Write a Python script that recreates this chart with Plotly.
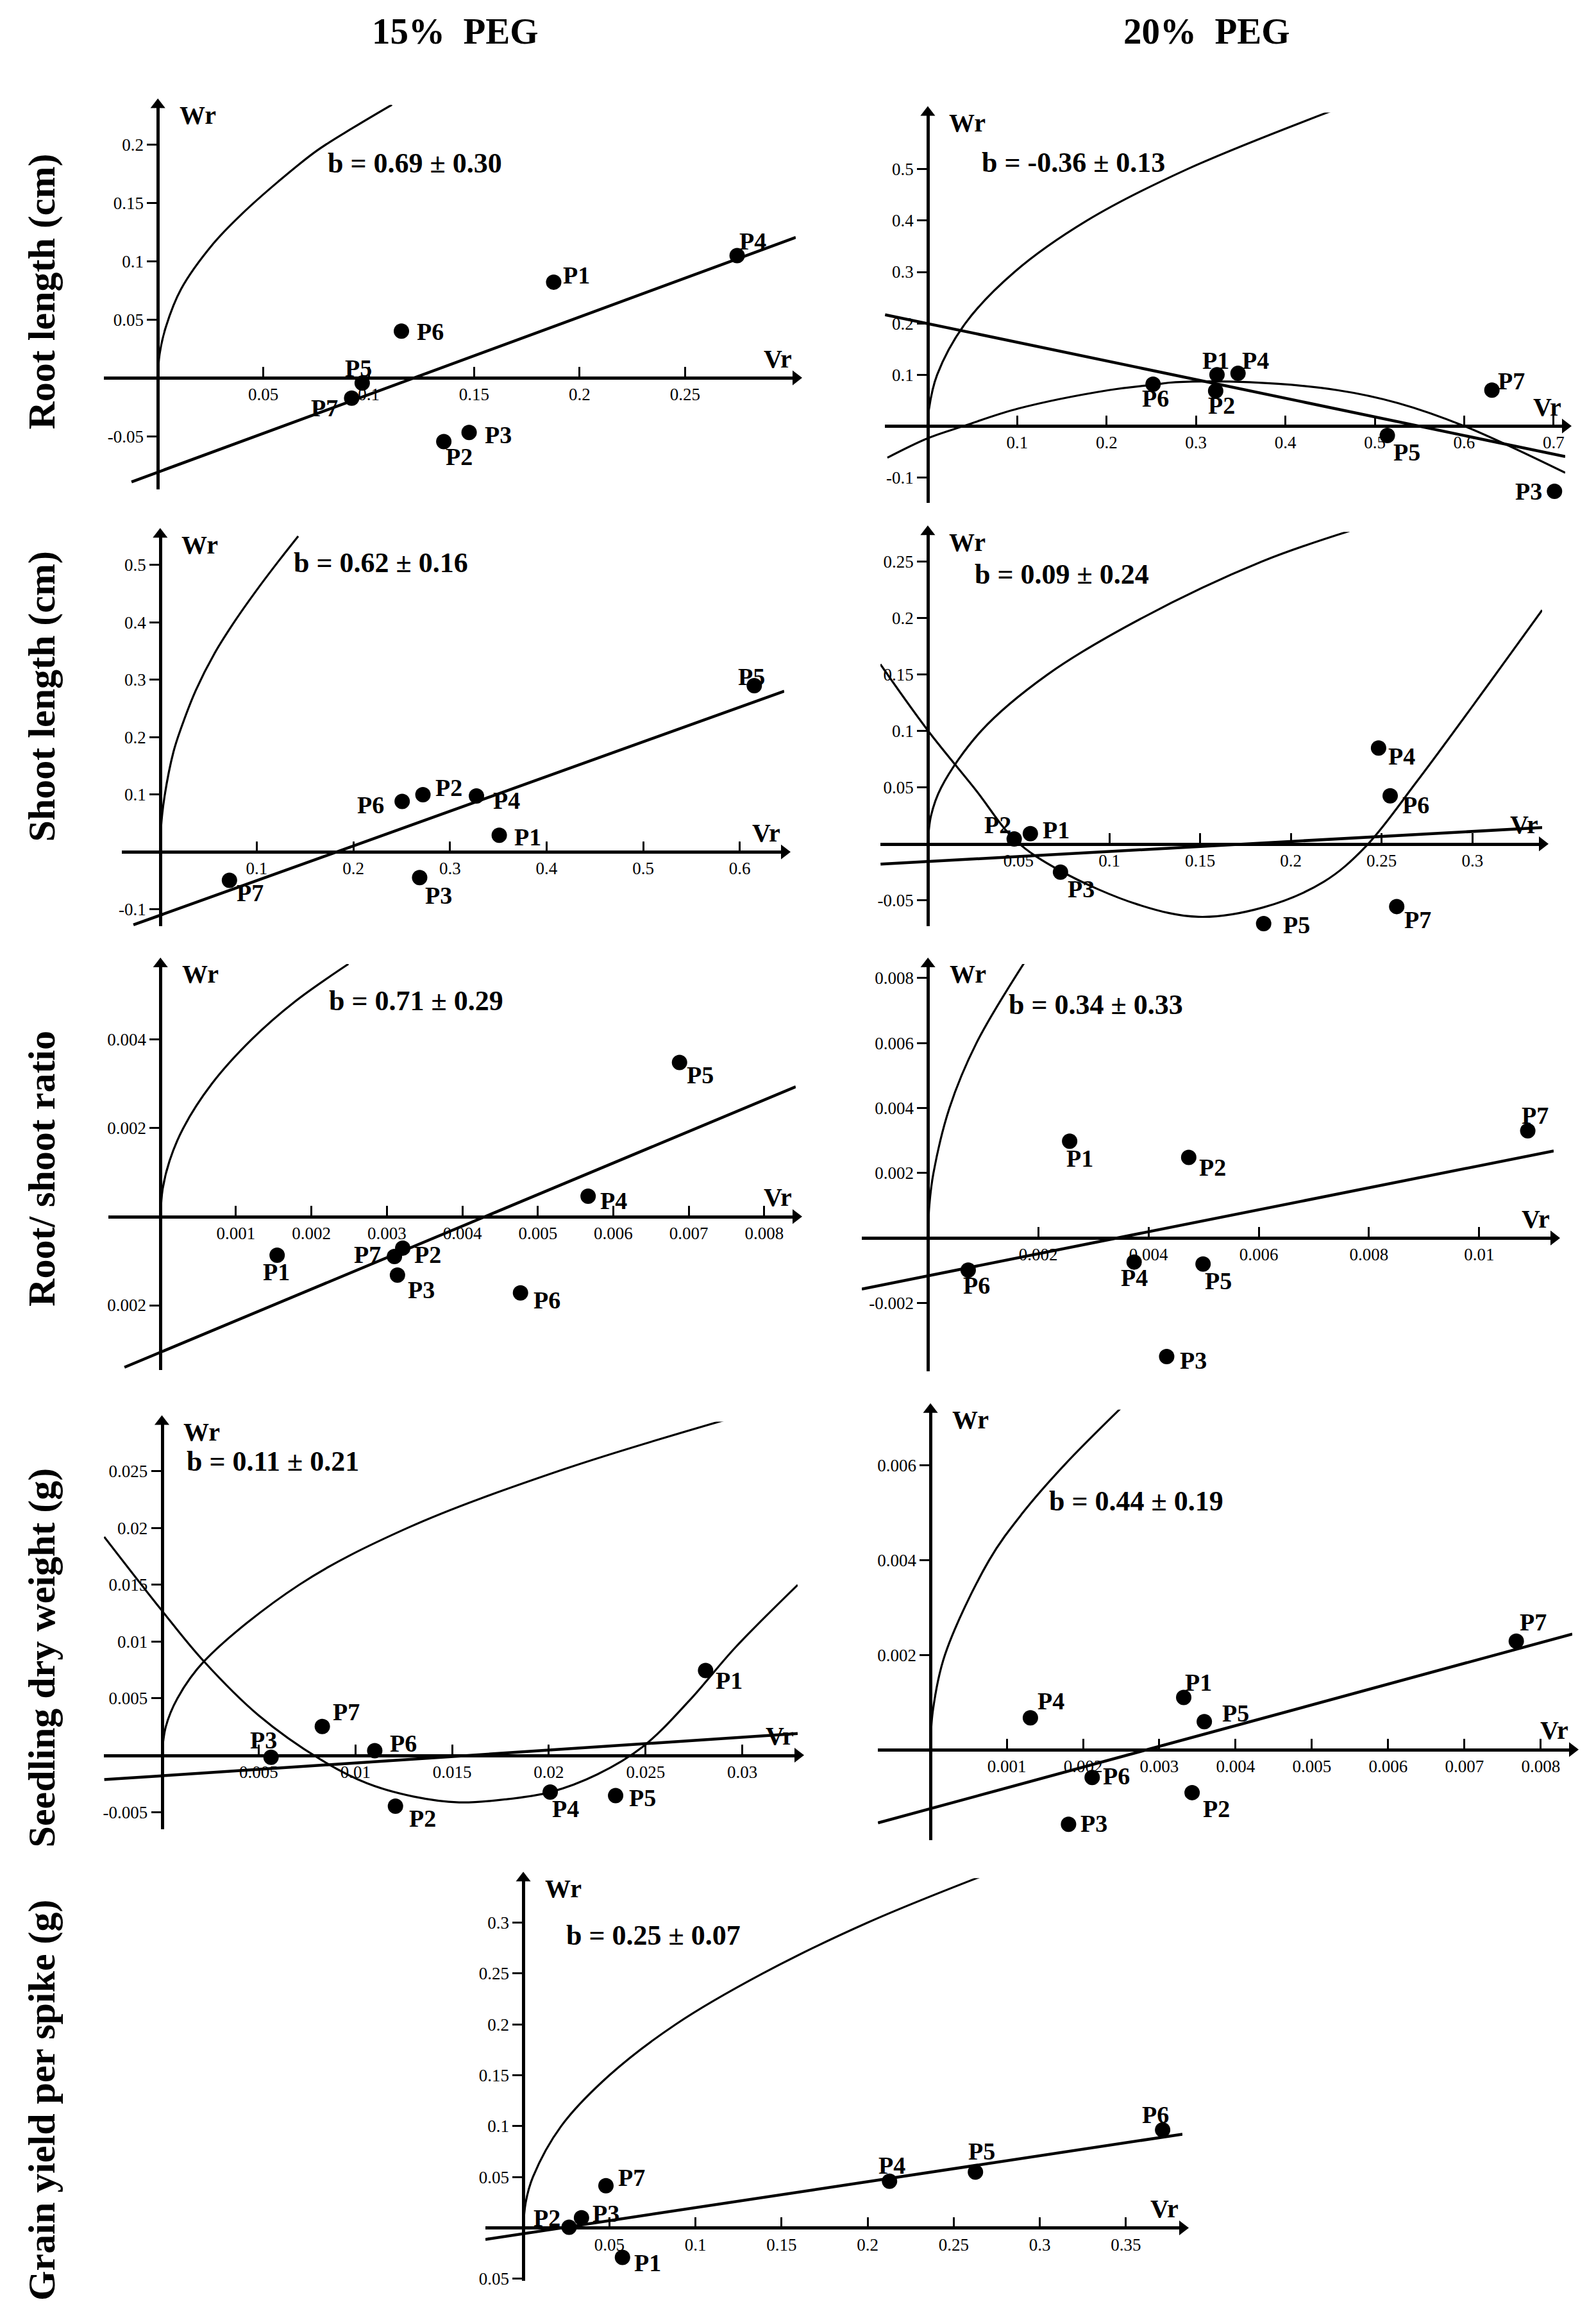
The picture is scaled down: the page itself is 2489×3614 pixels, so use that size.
import plotly.graph_objects as go

W, H = 2489, 3614
PARENTS = ["P1", "P2", "P3", "P4", "P5", "P6", "P7"]

# ---------------- Root length, 15% PEG ----------------
rl15_vr = [0.1877, 0.1356, 0.1476, 0.2747, 0.0969, 0.1155, 0.0919]
rl15_wr = [0.082, -0.0546, -0.0468, 0.1047, -0.0045, 0.040, -0.0174]
rl15_reg_vr = [-0.0125, 0.3025]
rl15_reg_wr = [-0.0891, 0.1203]
rl15_lim_vr = [0, 0.0008, 0.0036, 0.011, 0.0263, 0.0396, 0.057, 0.0753, 0.0927, 0.111]
rl15_lim_wr = [0, 0.02, 0.0425, 0.076, 0.115, 0.14, 0.168, 0.1945, 0.2144, 0.234]
rl15_b = "b = 0.69 ± 0.30"
rl15_xticks = [0.05, 0.1, 0.15, 0.2, 0.25]
rl15_xtext = ["0.05", "0.1", "0.15", "0.2", "0.25"]
rl15_yticks = [-0.05, 0.05, 0.1, 0.15, 0.2]
rl15_ytext = ["-0.05", "0.05", "0.1", "0.15", "0.2"]

# ---------------- Root length, 20% PEG ----------------
rl20_vr = [0.3235, 0.322, 0.701, 0.347, 0.514, 0.252, 0.631]
rl20_wr = [0.100, 0.0684, -0.127, 0.1026, -0.0184, 0.0816, 0.070]
rl20_reg_vr = [-0.0478, 0.713]
rl20_reg_wr = [0.2168, -0.0595]
rl20_quad_vr = [-0.0452, 0, 0.04, 0.101, 0.2025, 0.252, 0.277, 0.36, 0.458, 0.526, 0.6, 0.713]
rl20_quad_wr = [-0.0616, -0.0237, 0, 0.034, 0.070, 0.0805, 0.0853, 0.0853, 0.070, 0.0447, 0, -0.091]
rl20_lim_vr = [0, 0.0012, 0.0105, 0.042, 0.097, 0.178, 0.29, 0.452]
rl20_lim_wr = [0, 0.032, 0.1, 0.2, 0.3, 0.4, 0.5, 0.614]
rl20_b = "b = -0.36 ± 0.13"
rl20_xticks = [0.1, 0.2, 0.3, 0.4, 0.5, 0.6, 0.7]
rl20_xtext = ["0.1", "0.2", "0.3", "0.4", "0.5", "0.6", "0.7"]
rl20_yticks = [-0.1, 0.1, 0.2, 0.3, 0.4, 0.5]
rl20_ytext = ["-0.1", "0.1", "0.2", "0.3", "0.4", "0.5"]

# ---------------- Shoot length, 15% PEG ----------------
sl15_vr = [0.351, 0.272, 0.2686, 0.3274, 0.615, 0.2505, 0.0717]
sl15_wr = [0.029, 0.0998, -0.0447, 0.0975, 0.2896, 0.088, -0.0494]
sl15_reg_vr = [-0.0277, 0.646]
sl15_reg_wr = [-0.127, 0.280]
sl15_lim_vr = [0, 0.0011, 0.0046, 0.0137, 0.0215, 0.037, 0.056, 0.0785, 0.1034, 0.1237, 0.1429]
sl15_lim_wr = [0, 0.0475, 0.0978, 0.174, 0.215, 0.282, 0.345, 0.405, 0.464, 0.509, 0.55]
sl15_b = "b = 0.62 ± 0.16"
sl15_xticks = [0.1, 0.2, 0.3, 0.4, 0.5, 0.6]
sl15_xtext = ["0.1", "0.2", "0.3", "0.4", "0.5", "0.6"]
sl15_yticks = [-0.1, 0.1, 0.2, 0.3, 0.4, 0.5]
sl15_ytext = ["-0.1", "0.1", "0.2", "0.3", "0.4", "0.5"]

# ---------------- Shoot length, 20% PEG ----------------
sl20_vr = [0.0565, 0.0476, 0.0731, 0.2483, 0.185, 0.2547, 0.2583]
sl20_wr = [0.0091, 0.0043, -0.0251, 0.0849, -0.0706, 0.0426, -0.0555]
sl20_reg_vr = [-0.026, 0.3384]
sl20_reg_wr = [-0.0179, 0.0144]
sl20_quad_vr = [-0.0261, 0, 0.0263, 0.048, 0.0731, 0.1159, 0.1491, 0.1849, 0.2182, 0.2412, 0.2693, 0.3077, 0.3384]
sl20_quad_wr = [0.159, 0.1005, 0.048, 0.0036, -0.0239, -0.0538, -0.0646, -0.0562, -0.0335, -0.0024, 0.055, 0.1388, 0.207]
sl20_lim_vr = [0, 0.0018, 0.0074, 0.0294, 0.066, 0.118, 0.184, 0.2322]
sl20_lim_wr = [0, 0.025, 0.05, 0.1, 0.15, 0.2, 0.25, 0.277]
sl20_b = "b = 0.09 ± 0.24"
sl20_xticks = [0.05, 0.1, 0.15, 0.2, 0.25, 0.3]
sl20_xtext = ["0.05", "0.1", "0.15", "0.2", "0.25", "0.3"]
sl20_yticks = [-0.05, 0.05, 0.1, 0.15, 0.2, 0.25]
sl20_ytext = ["-0.05", "0.05", "0.1", "0.15", "0.2", "0.25"]

# ---------------- Root/shoot ratio, 15% PEG ----------------
rs15_vr = [0.001546, 0.00321, 0.00314, 0.005666, 0.006877, 0.00477, 0.0031]
rs15_wr = [-0.00087, -0.00071, -0.00132, 0.00046, 0.003477, -0.00172, -0.0009]
rs15_reg_vr = [-0.000477, 0.008417]
rs15_reg_wr = [-0.0034, 0.00293]
rs15_lim_vr = [0, 0.00003, 0.000121, 0.000303, 0.000682, 0.00121, 0.00178, 0.00249]
rs15_lim_wr = [0, 0.00063, 0.00126, 0.002, 0.003, 0.004, 0.00485, 0.0057]
rs15_b = "b = 0.71 ± 0.29"
rs15_xticks = [0.001, 0.002, 0.003, 0.004, 0.005, 0.006, 0.007, 0.008]
rs15_xtext = ["0.001", "0.002", "0.003", "0.004", "0.005", "0.006", "0.007", "0.008"]
rs15_yticks = [-0.002, 0.002, 0.004]
rs15_ytext = ["0.002", "0.002", "0.004"]

# ---------------- Root/shoot ratio, 20% PEG ----------------
rs20_vr = [0.00257, 0.00473, 0.00433, 0.00374, 0.00499, 0.00073, 0.01088]
rs20_wr = [0.00298, 0.00248, -0.00365, -0.00074, -0.0008, -0.00099, 0.0033]
rs20_reg_vr = [-0.0012, 0.01135]
rs20_reg_wr = [-0.00157, 0.00268]
rs20_lim_vr = [0, 0.000025, 0.0001, 0.00039, 0.00088, 0.00174]
rs20_lim_wr = [0, 0.001, 0.002, 0.004, 0.006, 0.00845]
rs20_b = "b = 0.34 ± 0.33"
rs20_xticks = [0.002, 0.004, 0.006, 0.008, 0.01]
rs20_xtext = ["0.002", "0.004", "0.006", "0.008", "0.01"]
rs20_yticks = [-0.002, 0.002, 0.004, 0.006, 0.008]
rs20_ytext = ["-0.002", "0.002", "0.004", "0.006", "0.008"]

# ---------------- Seedling dry weight, 15% PEG ----------------
sd15_vr = [0.0281, 0.01207, 0.00564, 0.02007, 0.02345, 0.011, 0.00829]
sd15_wr = [0.00745, -0.00449, -0.00018, -0.00325, -0.00356, 0.00039, 0.00252]
sd15_reg_vr = [-0.00298, 0.03286]
sd15_reg_wr = [-0.00215, 0.0019]
sd15_quad_vr = [-0.00298, 0, 0.00214, 0.005, 0.00821, 0.0106, 0.01298, 0.01536, 0.01774,
                0.02007, 0.0225, 0.02488, 0.02726, 0.02964, 0.03286]
sd15_quad_wr = [0.01921, 0.01272, 0.00831, 0.0035, -0.00039, -0.00247, -0.00363, -0.00415, -0.00389,
                -0.00325, -0.00169, 0.00078, 0.0048, 0.00948, 0.01498]
sd15_lim_vr = [0, 0.0002, 0.0008, 0.0022, 0.0071, 0.0127, 0.0205, 0.02905]
sd15_lim_wr = [0, 0.0025, 0.005, 0.0083, 0.015, 0.02, 0.025, 0.02947]
sd15_b = "b = 0.11 ± 0.21"
sd15_xticks = [0.005, 0.01, 0.015, 0.02, 0.025, 0.03]
sd15_xtext = ["0.005", "0.01", "0.015", "0.02", "0.025", "0.03"]
sd15_yticks = [-0.005, 0.005, 0.01, 0.015, 0.02, 0.025]
sd15_ytext = ["-0.005", "0.005", "0.01", "0.015", "0.02", "0.025"]

# ---------------- Seedling dry weight, 20% PEG ----------------
sd20_vr = [0.00332, 0.00343, 0.00181, 0.00131, 0.00359, 0.00212, 0.00768]
sd20_wr = [0.0011, -0.00091, -0.00158, 0.00067, 0.00059, -0.00059, 0.00229]
sd20_reg_vr = [-0.000688, 0.008414]
sd20_reg_wr = [-0.00155, 0.00244]
sd20_lim_vr = [0, 0.00003, 0.00019, 0.00077, 0.00121, 0.00175, 0.00249]
sd20_lim_wr = [0, 0.0008, 0.002, 0.004, 0.005, 0.006, 0.0072]
sd20_b = "b = 0.44 ± 0.19"
sd20_xticks = [0.001, 0.002, 0.003, 0.004, 0.005, 0.006, 0.007, 0.008]
sd20_xtext = ["0.001", "0.002", "0.003", "0.004", "0.005", "0.006", "0.007", "0.008"]
sd20_yticks = [0.002, 0.004, 0.006]
sd20_ytext = ["0.002", "0.004", "0.006"]

# ---------------- Grain yield per spike ----------------
gy_vr = [0.0576, 0.0266, 0.0338, 0.2127, 0.2626, 0.3713, 0.048]
gy_wr = [-0.029, 0.0006, 0.0099, 0.0459, 0.0549, 0.0963, 0.0414]
gy_reg_vr = [-0.022, 0.3828]
gy_reg_wr = [-0.0113, 0.0921]
gy_lim_vr = [0, 0.0014, 0.0056, 0.022, 0.05, 0.0885, 0.139, 0.2, 0.2662]
gy_lim_wr = [0, 0.025, 0.05, 0.1, 0.15, 0.2, 0.25, 0.3, 0.3456]
gy_b = "b = 0.25 ± 0.07"
gy_xticks = [0.05, 0.1, 0.15, 0.2, 0.25, 0.3, 0.35]
gy_xtext = ["0.05", "0.1", "0.15", "0.2", "0.25", "0.3", "0.35"]
gy_yticks = [-0.05, 0.05, 0.1, 0.15, 0.2, 0.25, 0.3]
gy_ytext = ["0.05", "0.05", "0.1", "0.15", "0.2", "0.25", "0.3"]

row_titles = ["Root length (cm)", "Shoot length (cm)", "Root/ shoot ratio",
              "Seedling dry weight (g)", "Grain yield per spike (g)"]
col_titles = ["15%\u00a0 PEG", "20%\u00a0 PEG"]

# ---------------- layout / style configuration ----------------
panels = [
    dict(vr=rl15_vr, wr=rl15_wr, reg=(rl15_reg_vr, rl15_reg_wr), lim=(rl15_lim_vr, rl15_lim_wr), quad=None,
         b=rl15_b, bpos=(0.122, 0.1837), xt=(rl15_xticks, rl15_xtext), yt=(rl15_yticks, rl15_ytext),
         box=(162, 1241, 164, 766), xr=[-0.0256, 0.3025], yr=[-0.0958, 0.2339],
         offs=[(36, -11), (24, 24), (45, 4), (24, -23), (-6, -23), (45, 1), (-42, 15)]),
    dict(vr=rl20_vr, wr=rl20_wr, reg=(rl20_reg_vr, rl20_reg_wr), lim=(rl20_lim_vr, rl20_lim_wr),
         quad=(rl20_quad_vr, rl20_quad_wr),
         b=rl20_b, bpos=(0.163, 0.513), xt=(rl20_xticks, rl20_xtext), yt=(rl20_yticks, rl20_ytext),
         box=(1380, 2441, 176, 787), xr=[-0.048, 0.713], yr=[-0.15, 0.6105],
         offs=[(-2, -22), (9, 22), (-40, 0), (27, -20), (30, 26), (4, 22), (30, -14)]),
    dict(vr=sl15_vr, wr=sl15_wr, reg=(sl15_reg_vr, sl15_reg_wr), lim=(sl15_lim_vr, sl15_lim_wr), quad=None,
         b=sl15_b, bpos=(0.2285, 0.504), xt=(sl15_xticks, sl15_xtext), yt=(sl15_yticks, sl15_ytext),
         box=(190, 1223, 836, 1449), xr=[-0.0397, 0.646], yr=[-0.1295, 0.553],
         offs=[(44, 3), (40, -11), (30, 28), (47, 7), (-4, -14), (-49, 6), (32, 20)]),
    dict(vr=sl20_vr, wr=sl20_wr, reg=(sl20_reg_vr, sl20_reg_wr), lim=(sl20_lim_vr, sl20_lim_wr),
         quad=(sl20_quad_vr, sl20_quad_wr),
         b=sl20_b, bpos=(0.0739, 0.2388), xt=(sl20_xticks, sl20_xtext), yt=(sl20_yticks, sl20_ytext),
         box=(1373, 2405, 832, 1449), xr=[-0.0261, 0.3384], yr=[-0.073, 0.2763],
         offs=[(40, -6), (-26, -22), (32, 26), (36, 13), (51, 2), (40, 14), (33, 21)]),
    dict(vr=rs15_vr, wr=rs15_wr, reg=(rs15_reg_vr, rs15_reg_wr), lim=(rs15_lim_vr, rs15_lim_wr), quad=None,
         b=rs15_b, bpos=(0.003386, 0.00487), xt=(rs15_xticks, rs15_xtext), yt=(rs15_yticks, rs15_ytext),
         box=(169, 1241, 1508, 2143), xr=[-0.00069, 0.008417], yr=[-0.00346, 0.0057],
         offs=[(-1, 26), (39, 10), (37, 23), (40, 7), (32, 19), (41, 11), (-42, -3)]),
    dict(vr=rs20_vr, wr=rs20_wr, reg=(rs20_reg_vr, rs20_reg_wr), lim=(rs20_lim_vr, rs20_lim_wr), quad=None,
         b=rs20_b, bpos=(0.00304, 0.00717), xt=(rs20_xticks, rs20_xtext), yt=(rs20_yticks, rs20_ytext),
         box=(1344, 2423, 1508, 2145), xr=[-0.0012, 0.01135], yr=[-0.0041, 0.00843],
         offs=[(16, 27), (37, 16), (42, 6), (0, 24), (24, 26), (13, 24), (11, -24)]),
    dict(vr=sd15_vr, wr=sd15_wr, reg=(sd15_reg_vr, sd15_reg_wr), lim=(sd15_lim_vr, sd15_lim_wr),
         quad=(sd15_quad_vr, sd15_quad_wr),
         b=sd15_b, bpos=(0.00574, 0.02583), xt=(sd15_xticks, sd15_xtext), yt=(sd15_yticks, sd15_ytext),
         box=(162, 1244, 2224, 2861), xr=[-0.003, 0.03286], yr=[-0.00649, 0.02934],
         offs=[(37, 16), (42, 19), (-12, -27), (24, 26), (42, 3), (45, -12), (37, -23)]),
    dict(vr=sd20_vr, wr=sd20_wr, reg=(sd20_reg_vr, sd20_reg_wr), lim=(sd20_lim_vr, sd20_lim_wr), quad=None,
         b=sd20_b, bpos=(0.0027, 0.00525), xt=(sd20_xticks, sd20_xtext), yt=(sd20_yticks, sd20_ytext),
         box=(1369, 2452, 2205, 2879), xr=[-0.00069, 0.008414], yr=[-0.00192, 0.00718],
         offs=[(23, -24), (38, 25), (40, -1), (32, -26), (49, -13), (38, -2), (26, -30)]),
    dict(vr=gy_vr, wr=gy_wr, reg=(gy_reg_vr, gy_reg_wr), lim=(gy_lim_vr, gy_lim_wr), quad=None,
         b=gy_b, bpos=(0.0755, 0.2873), xt=(gy_xticks, gy_xtext), yt=(gy_yticks, gy_ytext),
         box=(757, 1844, 2938, 3568), xr=[-0.022, 0.3828], yr=[-0.0521, 0.3437],
         offs=[(39, 8), (-35, -15), (38, -7), (4, -25), (10, -32), (-11, -24), (40, -13)]),
]

SERIF = "Liberation Serif, Times New Roman, serif"
tickfont = dict(family=SERIF, size=27, color="black")
lblfont = dict(family=SERIF, size=38, color="black", weight="bold")
bfont = dict(family=SERIF, size=44, color="black", weight="bold")
axlblfont = dict(family=SERIF, size=40, color="black", weight="bold")

fig = go.Figure()
annotations = []
layout = dict(width=W, height=H, margin=dict(l=0, r=0, t=0, b=0),
              paper_bgcolor="white", plot_bgcolor="white", showlegend=False)

for i, p in enumerate(panels, start=1):
    sx = "" if i == 1 else str(i)
    xref, yref = "x" + sx, "y" + sx
    x0, x1, yt_, yb_ = p["box"]
    xdom = [x0 / W, x1 / W]
    ydom = [1 - yb_ / H, 1 - yt_ / H]
    xr, yr = p["xr"], p["yr"]
    ypos0 = ydom[0] + (0 - yr[0]) / (yr[1] - yr[0]) * (ydom[1] - ydom[0])
    xpos0 = xdom[0] + (0 - xr[0]) / (xr[1] - xr[0]) * (xdom[1] - xdom[0])
    layout["xaxis" + sx] = dict(domain=xdom, range=xr, anchor="free", position=ypos0,
                                showline=True, linecolor="black", linewidth=4.5,
                                ticks="inside", ticklen=15, tickwidth=2.5, tickcolor="black",
                                tickvals=p["xt"][0], ticktext=p["xt"][1], tickfont=tickfont,
                                showgrid=False, zeroline=False)
    layout["yaxis" + sx] = dict(domain=ydom, range=yr, anchor="free", position=xpos0,
                                showline=True, linecolor="black", linewidth=4.5,
                                ticks="outside", ticklen=15, tickwidth=2.5, tickcolor="black",
                                tickvals=p["yt"][0], ticktext=p["yt"][1], tickfont=tickfont,
                                showgrid=False, zeroline=False)
    # limiting parabola
    fig.add_trace(go.Scatter(x=p["lim"][0], y=p["lim"][1], mode="lines", xaxis=xref, yaxis=yref,
                             line=dict(color="black", width=3.2, shape="spline", smoothing=1.0),
                             hoverinfo="skip"))
    # second-degree curve
    if p["quad"] is not None:
        fig.add_trace(go.Scatter(x=p["quad"][0], y=p["quad"][1], mode="lines", xaxis=xref, yaxis=yref,
                                 line=dict(color="black", width=3.2, shape="spline"), hoverinfo="skip"))
    # regression line
    fig.add_trace(go.Scatter(x=p["reg"][0], y=p["reg"][1], mode="lines", xaxis=xref, yaxis=yref,
                             line=dict(color="black", width=4.5)))
    # parents
    fig.add_trace(go.Scatter(x=p["vr"], y=p["wr"], mode="markers", xaxis=xref, yaxis=yref,
                             marker=dict(color="black", size=24), cliponaxis=False))
    # arrow heads on axes
    fig.add_trace(go.Scatter(x=[xr[1], 0], y=[0, yr[1]], mode="markers", xaxis=xref, yaxis=yref,
                             marker=dict(color="black", size=20, symbol=["triangle-right", "triangle-up"]),
                             cliponaxis=False, hoverinfo="skip"))
    for name, vx, wy, (dx, dy) in zip(PARENTS, p["vr"], p["wr"], p["offs"]):
        annotations.append(dict(x=vx, y=wy, xref=xref, yref=yref, text=name, showarrow=False,
                                xanchor="center", yanchor="middle",
                                xshift=dx, yshift=-dy, font=lblfont))
    annotations.append(dict(x=p["bpos"][0], y=p["bpos"][1], xref=xref, yref=yref, text=p["b"],
                            xanchor="center", yanchor="middle", showarrow=False, font=bfont))
    annotations.append(dict(x=0, y=yr[1], xref=xref, yref=yref, text="Wr", showarrow=False,
                            xanchor="center", yanchor="middle",
                            xshift=62, yshift=-16, font=axlblfont))
    annotations.append(dict(x=xr[1], y=0, xref=xref, yref=yref, text="Vr", showarrow=False,
                            xanchor="center", yanchor="middle",
                            xshift=-28, yshift=30, font=axlblfont))

# row titles
row_y = [456, 1090, 1828, 2593, 3285]
for t, yy in zip(row_titles, row_y):
    annotations.append(dict(x=65 / W, y=1 - yy / H, xref="paper", yref="paper", text=t, textangle=-90,
                            xanchor="center", yanchor="middle", showarrow=False,
                            font=dict(family=SERIF, size=60, color="black", weight="bold")))
# column titles
for t, xx in zip(col_titles, [710, 1882]):
    annotations.append(dict(x=xx / W, y=1 - 49 / H, xref="paper", yref="paper", text=t,
                            xanchor="center", yanchor="middle", showarrow=False,
                            font=dict(family=SERIF, size=57, color="black", weight="bold")))

layout["annotations"] = annotations
fig.update_layout(**layout)
fig.write_html("out.html")
